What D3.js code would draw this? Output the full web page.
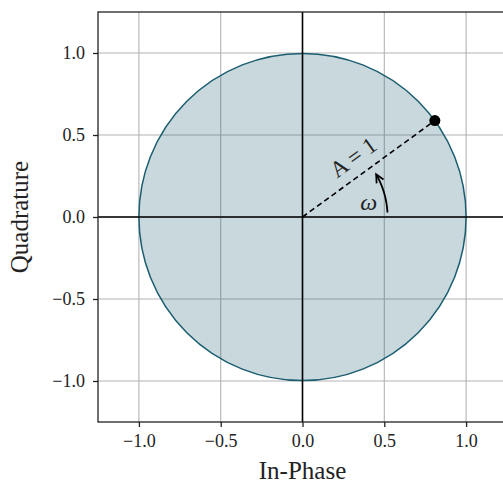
<!DOCTYPE html>
<html>
<head>
<meta charset="utf-8">
<script src="https://cdn.jsdelivr.net/npm/d3@7"></script>
<style>
  html, body { margin: 0; padding: 0; background: #fff; }
  svg { display: block; }
  text { font-family: "Liberation Serif", "DejaVu Serif", serif; fill: #222; }
</style>
</head>
<body>
<svg id="chart" width="503" height="485"></svg>
<script>
// Unit phasor on the I/Q plane
const xDomain = [-1.25, 1.25];
const yDomain = [-1.25, 1.25];
const tickValues = [-1.0, -0.5, 0.0, 0.5, 1.0];
const amplitude = 1;
const phaseDeg = 36;           // angle of the phasor point
const omegaArcRadius = 0.52;   // radius of the rotation arrow
const omegaArcDeg = [3, 30];   // start / end angle of the rotation arrow
const xLabel = "In-Phase";
const yLabel = "Quadrature";

const margin = { left: 98, top: 12 };
const plotW = 409, plotH = 410;

const svg = d3.select("#chart");
const x = d3.scaleLinear().domain(xDomain).range([margin.left, margin.left + plotW]);
const y = d3.scaleLinear().domain(yDomain).range([margin.top + plotH, margin.top]);

const fmt = v => (v < 0 ? "\u2212" : "") + Math.abs(v).toFixed(1);

// grid
const grid = svg.append("g").attr("stroke", "#b3b3b3").attr("stroke-width", 1.1);
tickValues.forEach(t => {
  grid.append("line").attr("x1", x(t)).attr("x2", x(t)).attr("y1", y(yDomain[0])).attr("y2", y(yDomain[1]));
  grid.append("line").attr("y1", y(t)).attr("y2", y(t)).attr("x1", x(xDomain[0])).attr("x2", x(xDomain[1]));
});

// amplitude circle
svg.append("circle")
  .attr("cx", x(0)).attr("cy", y(0))
  .attr("r", x(amplitude) - x(0))
  .attr("fill", "#1b5d70").attr("fill-opacity", 0.24)
  .attr("stroke", "#1b5d70").attr("stroke-width", 1.5);

// zero axes
svg.append("line").attr("x1", x(xDomain[0])).attr("x2", x(xDomain[1]))
  .attr("y1", y(0)).attr("y2", y(0)).attr("stroke", "#000").attr("stroke-width", 1.6);
svg.append("line").attr("x1", x(0)).attr("x2", x(0))
  .attr("y1", y(yDomain[0])).attr("y2", y(yDomain[1])).attr("stroke", "#000").attr("stroke-width", 1.6);

// phasor
const th = phaseDeg * Math.PI / 180;
const px = amplitude * Math.cos(th), py = amplitude * Math.sin(th);
svg.append("line")
  .attr("x1", x(0)).attr("y1", y(0)).attr("x2", x(px)).attr("y2", y(py))
  .attr("stroke", "#000").attr("stroke-width", 1.6).attr("stroke-dasharray", "5.5,3.5");
svg.append("circle").attr("cx", x(px)).attr("cy", y(py)).attr("r", 5.5).attr("fill", "#000");

// amplitude label along the phasor
const mid = 0.47 * amplitude;
const lx = x(mid * Math.cos(th)) - 7, ly = y(mid * Math.sin(th)) - 8;
svg.append("text")
  .attr("transform", `translate(${lx},${ly}) rotate(${-phaseDeg})`)
  .attr("text-anchor", "middle")
  .attr("font-size", 23)
  .text("A = 1");

// rotation arrow
const arcPts = d3.range(omegaArcDeg[0], omegaArcDeg[1] + 0.01, 0.5).map(d => {
  const a = d * Math.PI / 180;
  return [x(omegaArcRadius * Math.cos(a)), y(omegaArcRadius * Math.sin(a))];
});
svg.append("path").attr("d", d3.line()(arcPts))
  .attr("fill", "none").attr("stroke", "#000").attr("stroke-width", 1.8);
const tip = arcPts[arcPts.length - 1];
const prev = arcPts[arcPts.length - 6];
const ang = Math.atan2(tip[1] - prev[1], tip[0] - prev[0]);
const hl = 9, hw = 0.45;
const headPts = [
  [tip[0] - hl * Math.cos(ang - hw), tip[1] - hl * Math.sin(ang - hw)],
  tip,
  [tip[0] - hl * Math.cos(ang + hw), tip[1] - hl * Math.sin(ang + hw)]
];
svg.append("path").attr("d", d3.line()(headPts))
  .attr("fill", "none").attr("stroke", "#000").attr("stroke-width", 1.8)
  .attr("stroke-linejoin", "miter");

svg.append("text")
  .attr("x", x(0.405)).attr("y", y(0.04))
  .attr("text-anchor", "middle")
  .attr("font-size", 24).attr("font-style", "italic")
  .text("\u03c9");

// frame (right side runs off the canvas)
svg.append("rect")
  .attr("x", margin.left).attr("y", margin.top).attr("width", plotW).attr("height", plotH)
  .attr("fill", "none").attr("stroke", "#222").attr("stroke-width", 1.3);

// axes
const xAxis = d3.axisBottom(x).tickValues(tickValues).tickFormat(fmt).tickSize(5).tickPadding(7);
const yAxis = d3.axisLeft(y).tickValues(tickValues).tickFormat(fmt).tickSize(5).tickPadding(8);
const gx = svg.append("g").attr("transform", `translate(0,${margin.top + plotH})`).call(xAxis);
const gy = svg.append("g").attr("transform", `translate(${margin.left},0)`).call(yAxis);
[gx, gy].forEach(g => {
  g.select(".domain").remove();
  g.selectAll(".tick line").attr("stroke", "#222").attr("stroke-width", 1.3);
  g.selectAll(".tick text").attr("font-size", 18).attr("fill", "#222")
    .attr("font-family", "Liberation Serif, DejaVu Serif, serif");
});

// axis titles
svg.append("text").attr("x", x(0)).attr("y", 479).attr("text-anchor", "middle")
  .attr("font-size", 25).text(xLabel);
svg.append("text").attr("transform", `translate(28,${y(0)}) rotate(-90)`)
  .attr("text-anchor", "middle").attr("font-size", 25).text(yLabel);
</script>
</body>
</html>
